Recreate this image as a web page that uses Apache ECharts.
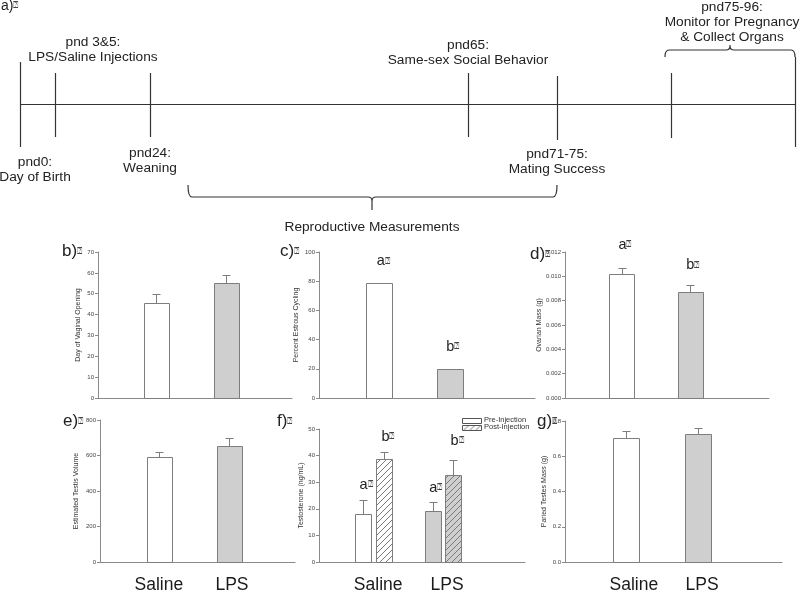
<!DOCTYPE html>
<html><head><meta charset="utf-8">
<script src="https://cdn.jsdelivr.net/npm/echarts@6/dist/echarts.min.js"></script>
<style>html,body{margin:0;padding:0;background:#fff}#c{width:800px;height:594px}</style>
</head><body><div id="c"></div>
<script>
// ================= DATA =================
const groups = ['Saline', 'LPS'];
const timelineStages = ['pnd0:\nDay of Birth', 'pnd 3&5:\nLPS/Saline Injections', 'pnd24:\nWeaning',
  'pnd65:\nSame-sex Social Behavior', 'pnd71-75:\nMating Success', 'pnd75-96:\nMonitor for Pregnancy\n& Collect Organs'];
const measureLabel = 'Reproductive Measurements';
const panelTags = ['a)', 'b)', 'c)', 'd)', 'e)', 'f)', 'g)'];
const QBOX = '\u2370';

const yTitles = ['Day of Vaginal Opening', 'Percent Estrous Cycling', 'Ovarian Mass (g)',
  'Estimated Testis Volume', 'Testosterone (ng/mL)', 'Paried Testes Mass (g)'];
const yMax = [70, 100, 0.012, 800, 50, 0.8];
const yStep = [10, 20, 0.002, 200, 10, 0.2];
const yDecimals = [0, 0, 3, 0, 0, 1];

const vaginalOpening = [45.5, 55.1];   const vaginalOpeningSE = [4.3, 3.9];
const estrousCycling = [78.8, 20.0];   const estrousCyclingSE = [0, 0];
const ovarianMass = [0.0102, 0.0087];  const ovarianMassSE = [0.0005, 0.0006];
const testisVolume = [590, 656];       const testisVolumeSE = [28, 40];
const testosteronePre = [18.0, 19.1];  const testosteronePreSE = [5.4, 3.6];
const testosteronePost = [38.6, 32.8]; const testosteronePostSE = [2.6, 5.5];
const testesMass = [0.705, 0.727];     const testesMassSE = [0.04, 0.035];
const legendNames = ['Pre-Injection', 'Post-Injection'];

const lettersC = ['a', 'b'];
const lettersD = ['a', 'b'];
const lettersFPre = ['a', 'a'];
const lettersFPost = ['b', 'b'];

// ================= LAYOUT =================
const tickX = [20, 55, 150, 468, 557, 671, 795];
const tickSpan = [[62, 147], [73, 137], [73, 137], [73, 137], [76, 140], [73, 138], [57, 147]];
const baselineY = 104;
const stageAnchor = [[35, 155], [93, 35], [150, 146], [468, 38], [557, 147], [732, 0]];
const measureAnchor = [372, 227];
const braces = [[188, 557, 372, 197, 185, 210], [665, 795, 730, 50, 57, 45]];

const panels = [
  {left: 98,  top: 252, width: 194, height: 146, min: 0.171, max: 2.943, gap: 16, lab: false},
  {left: 319, top: 252, width: 216, height: 146, min: 0.155, max: 3.197, gap: 19, lab: false},
  {left: 565, top: 252, width: 204, height: 146, min: 0.175, max: 3.153, gap: 22, lab: false},
  {left: 100, top: 420, width: 195, height: 145, min: 0.150, max: 2.936, gap: 20, lab: true, labPos: [0.99, 2.035]},
  {left: 319, top: 429, width: 206, height: 138, min: 0.222, max: 3.175, gap: 14, lab: true, labPos: [1.07, 2.057]},
  {left: 565, top: 421, width: 217, height: 146, min: 0.153, max: 3.167, gap: 17, lab: true, labPos: [1.11, 2.056]}
];
const tagPos = [[1, 8], [62, 252], [280, 252], [530, 255], [63, 422], [277, 422], [537, 422]];
const FONT = '"Liberation Sans", Arial, "DejaVu Sans", sans-serif';
const STROKE = '#7d7d7d';
const WHITE = '#ffffff', GREY = '#cfcfcf';

function hatch(bg) {
  const c = document.createElement('canvas'); c.width = 6; c.height = 6;
  const g = c.getContext('2d'); g.fillStyle = bg; g.fillRect(0, 0, 6, 6);
  g.strokeStyle = '#7a7a7a'; g.lineWidth = 1; g.beginPath();
  g.moveTo(-1, 7); g.lineTo(7, -1); g.moveTo(-4, 4); g.lineTo(4, -4); g.moveTo(2, 10); g.lineTo(10, 2);
  g.stroke();
  return {image: c, repeat: 'repeat'};
}
const HATCH_W = hatch(WHITE), HATCH_G = hatch(GREY);

// ================= BUILD =================
const grid = [{left: 0, top: 0, width: 800, height: 240}];
const xAxis = [{type: 'value', gridIndex: 0, min: 0, max: 800, show: false}];
const yAxis = [{type: 'value', gridIndex: 0, min: 0, max: 240, inverse: true, show: false}];

panels.forEach((p, i) => {
  const gi = i + 1;
  grid.push({left: p.left, top: p.top, width: p.width, height: p.height});
  xAxis.push({
    type: 'value', gridIndex: gi, min: p.min, max: p.max,
    axisLine: {show: true, onZero: false, lineStyle: {color: '#8a8a8a', width: 1}},
    axisTick: {show: false}, splitLine: {show: false},
    axisLabel: p.lab ? {show: true, customValues: p.labPos, formatter: v => groups[Math.round(v) - 1],
      fontSize: 17.5, color: '#1a1a1a', fontFamily: FONT, margin: 14} : {show: false}
  });
  yAxis.push({
    type: 'value', gridIndex: gi, min: 0, max: yMax[i], interval: yStep[i],
    name: yTitles[i], nameLocation: 'middle', nameGap: p.gap,
    nameTextStyle: {fontSize: 7, color: '#333', fontFamily: FONT},
    axisLine: {show: true, lineStyle: {color: '#8a8a8a', width: 1}},
    axisTick: {show: true, length: 3, lineStyle: {color: '#8a8a8a'}},
    splitLine: {show: false},
    axisLabel: {fontSize: 6, color: '#444', margin: 4, fontFamily: FONT,
      formatter: v => Number(v).toFixed(yDecimals[i])}
  });
});

function barRender(width, fills) {
  return function (params, api) {
    const x = api.value(0), v = api.value(1), se = api.value(2);
    const base = api.coord([x, 0]), top = api.coord([x, v]);
    const cx = Math.round(top[0]) + 0.5;
    const ch = [{type: 'rect', shape: {x: Math.round(top[0] - width / 2) + 0.5, y: Math.round(top[1]) + 0.5,
      width: width, height: Math.round(base[1]) - Math.round(top[1])},
      style: {fill: fills[params.dataIndex], stroke: STROKE, lineWidth: 1}}];
    if (se > 0) {
      const e = api.coord([x, v + se]);
      const ey = Math.round(e[1]) + 0.5;
      ch.push({type: 'line', shape: {x1: cx, y1: Math.round(top[1]), x2: cx, y2: ey}, style: {stroke: STROKE, lineWidth: 1}});
      ch.push({type: 'line', shape: {x1: cx - 4, y1: ey, x2: cx + 4, y2: ey}, style: {stroke: STROKE, lineWidth: 1}});
    }
    return {type: 'group', children: ch};
  };
}
function barSeries(gi, vals, ses, offset, width, fills) {
  return {type: 'custom', xAxisIndex: gi, yAxisIndex: gi, clip: false,
    data: vals.map((v, k) => [k + 1 + offset, v, ses[k]]),
    renderItem: barRender(width, fills)};
}
function letterSeries(gi, letters, xs, ys) {
  return {type: 'custom', xAxisIndex: gi, yAxisIndex: gi, clip: false,
    data: letters.map((l, k) => [xs[k], ys[k]]),
    renderItem: function (params, api) {
      const p = api.coord([api.value(0), api.value(1)]);
      return {type: 'text', x: p[0], y: p[1], style: {
        text: '{t|' + letters[params.dataIndex] + '}{q|' + QBOX + '}',
        rich: {t: {fontSize: 14.5, fill: '#222', fontFamily: FONT}, q: {fontSize: 9, fill: '#444'}},
        align: 'center', verticalAlign: 'middle'}};
    }};
}

const series = [];
// ---- timeline ----
series.push({type: 'custom', xAxisIndex: 0, yAxisIndex: 0, silent: true,
  data: [[tickX[0], baselineY, tickX[tickX.length - 1]]],
  renderItem: (params, api) => {
    const a = api.coord([api.value(0), api.value(1)]), b = api.coord([api.value(2), api.value(1)]);
    return {type: 'line', shape: {x1: a[0], y1: a[1] + 0.5, x2: b[0], y2: b[1] + 0.5}, style: {stroke: '#333', lineWidth: 1.2}};
  }});
series.push({type: 'custom', xAxisIndex: 0, yAxisIndex: 0, silent: true,
  data: tickX.map((x, i) => [x, tickSpan[i][0], tickSpan[i][1]]),
  renderItem: (params, api) => {
    const a = api.coord([api.value(0), api.value(1)]), b = api.coord([api.value(0), api.value(2)]);
    return {type: 'line', shape: {x1: a[0] + 0.5, y1: a[1], x2: b[0] + 0.5, y2: b[1]}, style: {stroke: '#333', lineWidth: 1.2}};
  }});
series.push({type: 'custom', xAxisIndex: 0, yAxisIndex: 0, silent: true,
  data: stageAnchor.map((p, i) => [p[0], p[1], i]),
  renderItem: (params, api) => {
    const a = api.coord([api.value(0), api.value(1)]);
    return {type: 'text', x: a[0], y: a[1], style: {text: timelineStages[api.value(2)], fill: '#222',
      fontSize: 13.7, fontFamily: FONT, align: 'center', verticalAlign: 'top', lineHeight: 15}};
  }});
series.push({type: 'custom', xAxisIndex: 0, yAxisIndex: 0, silent: true,
  data: [measureAnchor],
  renderItem: (params, api) => {
    const a = api.coord([api.value(0), api.value(1)]);
    return {type: 'text', x: a[0], y: a[1], style: {text: measureLabel, fill: '#222',
      fontSize: 13.7, fontFamily: FONT, align: 'center', verticalAlign: 'middle'}};
  }});
series.push({type: 'custom', xAxisIndex: 0, yAxisIndex: 0, silent: true,
  data: braces,
  renderItem: (params, api) => {
    const x0 = api.coord([api.value(0), 0])[0], x1 = api.coord([api.value(1), 0])[0], xm = api.coord([api.value(2), 0])[0];
    const yl = api.coord([0, api.value(3)])[1], ye = api.coord([0, api.value(4)])[1], yt = api.coord([0, api.value(5)])[1];
    const s = 4, d = yt > yl ? 1 : -1;
    const path = `M${x0} ${ye} Q${x0} ${yl} ${x0 + s} ${yl} L${xm - s} ${yl} Q${xm} ${yl} ${xm} ${yl + d * 4} L${xm} ${yt}` +
      ` M${xm} ${yl + d * 4} Q${xm} ${yl} ${xm + s} ${yl} L${x1 - s} ${yl} Q${x1} ${yl} ${x1} ${ye}`;
    return {type: 'path', shape: {pathData: path}, style: {stroke: '#333', lineWidth: 1.2, fill: null}};
  }});

// ---- panels ----
series.push(barSeries(1, vaginalOpening, vaginalOpeningSE, 0, 25, [WHITE, GREY]));
series.push(barSeries(2, estrousCycling, estrousCyclingSE, 0, 26, [WHITE, GREY]));
series.push(letterSeries(2, lettersC, [1.06, 2.04], [93.8, 35]));
series.push(barSeries(3, ovarianMass, ovarianMassSE, 0, 25, [WHITE, GREY]));
series.push(letterSeries(3, lettersD, [1.05, 2.04], [0.01258, 0.01093]));
series.push(barSeries(4, testisVolume, testisVolumeSE, 0, 25, [WHITE, GREY]));
series.push(barSeries(5, testosteronePre, testosteronePreSE, -0.147, 16, [WHITE, GREY]));
series.push(barSeries(5, testosteronePost, testosteronePostSE, 0.147, 16, [HATCH_W, HATCH_G]));
series.push(letterSeries(5, lettersFPre, [0.896, 1.895], [29, 27.9]));
series.push(letterSeries(5, lettersFPost, [1.21, 2.2], [47.1, 45.6]));
series.push(barSeries(6, testesMass, testesMassSE, 0, 26, [WHITE, GREY]));

// ---- graphic: panel tags + legend of panel f ----
const graphic = panelTags.map((t, i) => ({
  type: 'text', left: tagPos[i][0], top: tagPos[i][1] - 9,
  style: {text: '{t|' + t + '}{q|' + QBOX + '}',
    rich: {t: {fontSize: i === 0 ? 14 : 17, fill: '#222', fontFamily: FONT}, q: {fontSize: 9, fill: '#444'}}}
}));
graphic.push({type: 'rect', left: 462, top: 418, shape: {width: 19, height: 5}, style: {fill: WHITE, stroke: '#555', lineWidth: 1}});
graphic.push({type: 'rect', left: 462, top: 425, shape: {width: 19, height: 5}, style: {fill: HATCH_W, stroke: '#555', lineWidth: 1}});
graphic.push({type: 'text', left: 484, top: 416, style: {text: legendNames[0], fontSize: 7.5, fill: '#333', fontFamily: FONT}});
graphic.push({type: 'text', left: 484, top: 423, style: {text: legendNames[1], fontSize: 7.5, fill: '#333', fontFamily: FONT}});

const chart = echarts.init(document.getElementById('c'), null, {renderer: 'canvas'});
chart.setOption({animation: false, backgroundColor: '#fff', grid, xAxis, yAxis, series, graphic});
</script></body></html>
